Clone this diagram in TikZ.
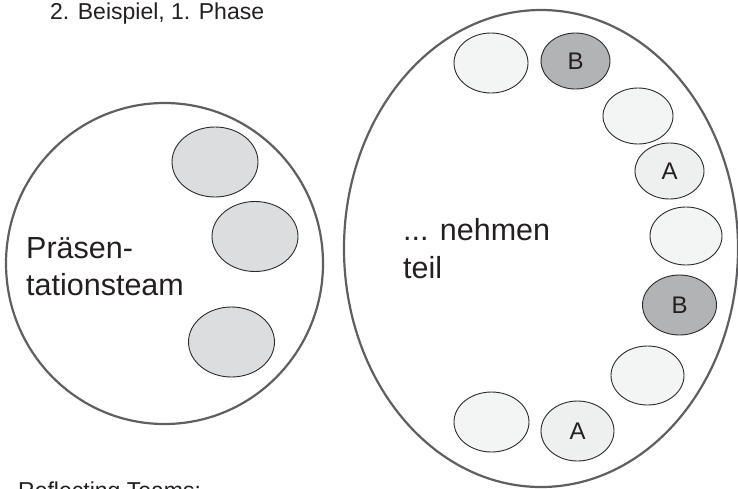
\documentclass[tikz,border=0pt]{standalone}
\usepackage{fontspec}
\setmainfont{Liberation Sans}
\usetikzlibrary{shapes.geometric}
\definecolor{txt}{HTML}{231F20}
\definecolor{bigline}{HTML}{5F5F61}
\definecolor{smline}{HTML}{2B2B2B}
\definecolor{leftfill}{HTML}{DCDDDF}
\definecolor{plainfill}{HTML}{F3F4F4}
\definecolor{afill}{HTML}{EEEFEF}
\definecolor{bfill}{HTML}{B2B3B5}
\tikzset{
  group/.style={ellipse, draw=bigline, line width=2.2pt, inner sep=0pt},
  member/.style={ellipse, draw=smline, line width=0.9pt, inner sep=0pt, text=txt,
    font=\fontsize{24}{28}\selectfont},
  leftm/.style={member, fill=leftfill, minimum width=86pt, minimum height=70pt},
  plain/.style={member, fill=plainfill},
  amem/.style={member, fill=afill},
  bmem/.style={member, fill=bfill},
  bigtext/.style={anchor=base west, inner sep=0pt, text=txt, align=left,
    font=\fontsize{30.5}{37.5}\selectfont},
  smalltext/.style={anchor=base west, inner sep=0pt, text=txt,
    font=\fontsize{23}{27}\selectfont}
}
\begin{document}
\begin{tikzpicture}[x=1pt, y=-1pt]
\useasboundingbox (0,0) rectangle (738,488);
% groups
\node[group, minimum width=317pt, minimum height=321pt] (left) at (164.5,263.5) {};
\node[group, minimum width=394pt, minimum height=477pt] (right) at (541,248.5) {};
% presentation team
\node[leftm] (p1) at (215,162) {};
\node[leftm] (p2) at (255,236.5) {};
\node[leftm] (p3) at (231.5,342) {};
\node[bigtext] (ptxt) at (26,295.5) {Präsen-\\tationsteam};
% participants
\node[plain, minimum width=74pt, minimum height=60pt] (e1) at (491,63) {};
\node[bmem, minimum width=69pt, minimum height=56pt] (b1) at (575.5,61) {B};
\node[plain, minimum width=70pt, minimum height=56pt] (e2) at (638,116) {};
\node[amem, minimum width=69pt, minimum height=56pt] (a1) at (669.5,171) {A};
\node[plain, minimum width=72pt, minimum height=58pt] (e3) at (686,236) {};
\node[bmem, minimum width=74pt, minimum height=60pt] (b2) at (679.5,305) {B};
\node[plain, minimum width=73pt, minimum height=59pt] (e4) at (647.5,375.5) {};
\node[plain, minimum width=75pt, minimum height=60pt] (e5) at (491.5,422) {};
\node[amem, minimum width=73pt, minimum height=60pt] (a2) at (577.5,431) {A};
\node[bigtext] (ntxt) at (403,278) {... nehmen\\teil};
% captions
\node[smalltext] (title) at (50,19.5) {2. Beispiel, 1. Phase};
\node[smalltext] (refl) at (18,498.5) {Reflecting Teams:};
\end{tikzpicture}
\end{document}
